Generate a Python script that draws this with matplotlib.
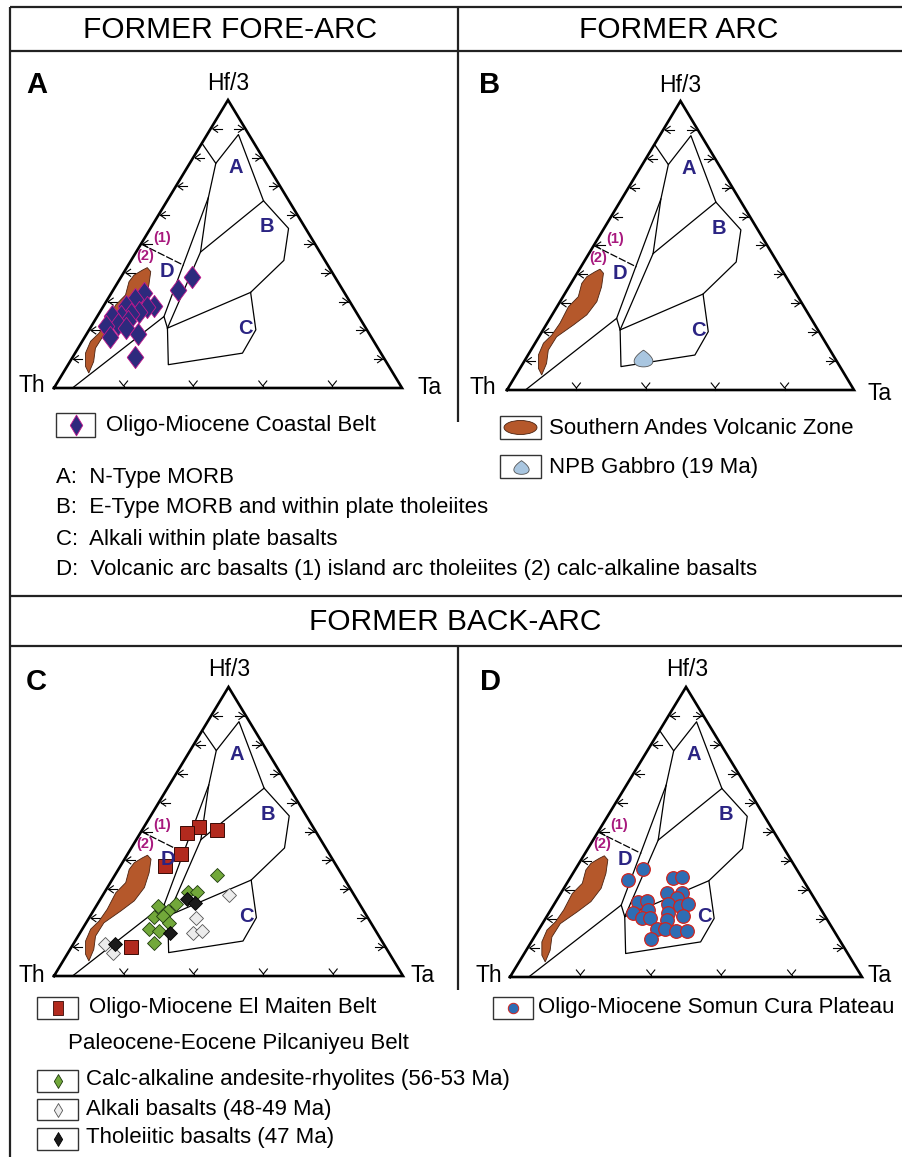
import numpy as np
import matplotlib
matplotlib.use("Agg")
import matplotlib.pyplot as plt
from matplotlib.patches import Rectangle, Ellipse, Polygon

W, H = 902, 1157
plt.rcParams['font.family'] = ['Liberation Sans', 'DejaVu Sans']

# ---------- data : ternary compositions, (Hf/3 %, Ta %) ; Th = 100 - Hf/3 - Ta ----------
# Wood (1980) field boundaries
FIELD_LINES = [
    [(85, 0), (78, 7.5), (88, 9), (65, 27.7), (55.4, 39.7), (44.3, 43.9), (33.2, 39.9),
     (20.2, 47.9), (12.1, 48.1), (8.1, 28.8), (20.8, 22.2), (24.8, 19.2), (0, 5.3)],
    [(78, 7.5), (66.1, 11.3), (24.8, 19.2)],
    [(66.1, 11.3), (47.2, 18.5), (20.8, 22.2)],
    [(47.2, 18.5), (65, 27.7)],
    [(20.8, 22.2), (33.2, 39.9)],
]
FIELD_DASHED = [(50, 0), (42.6, 16.0)]

# Southern Andes Volcanic Zone outline
svz_hf = [41.8, 40.4, 35.7, 30.6, 26.0, 22.5, 18.4, 13.8, 9.2, 5.2, 7.5, 12.1, 16.2, 19.0,
          23.1, 28.8, 32.3, 36.9, 39.2, 40.9]
svz_ta = [5.9, 7.6, 9.4, 10.6, 10.0, 7.9, 5.1, 5.0, 6.8, 7.4, 5.3, 3.0, 2.4, 3.4,
          3.7, 3.3, 4.4, 3.1, 3.4, 4.9]

# A - Oligo-Miocene Coastal Belt
coastal_hf = [38.5, 33.9, 32.9, 30.9, 28.6, 28.1, 28.6, 26.5, 25.8, 25.1, 25.1, 23.1, 22.3,
              21.4, 20.8, 17.7, 18.8, 10.8]
coastal_ta = [20.3, 18.6, 9.5, 7.8, 14.4, 12.6, 6.4, 11.3, 9.1, 6.6, 4.0, 9.8, 7.3,
              4.2, 10.3, 7.2, 14.8, 17.9]

# B - NPB Gabbro
gabbro_hf = [11.0]
gabbro_ta = [33.7]

# C - El Maiten Belt and Pilcaniyeu Belt
maiten_hf = [51.7, 50.6, 49.4, 42.3, 37.9, 10.2]
maiten_ta = [15.7, 21.5, 13.3, 15.2, 12.8, 16.9]
calc_hf = [34.9, 29.2, 28.9, 24.9, 24.2, 22.6, 20.3, 20.6, 18.5, 16.4, 15.6, 11.5]
calc_ta = [29.3, 23.8, 26.4, 22.6, 17.7, 21.4, 18.6, 21.0, 23.8, 19.1, 22.4, 22.9]
alkali_hf = [28.1, 20.0, 14.8, 15.6, 10.9, 7.9]
alkali_ta = [36.2, 30.7, 32.5, 34.5, 9.3, 12.9]
thol_hf = [26.6, 25.4, 15.0, 11.1]
thol_ta = [24.7, 27.7, 25.7, 11.9]

# D - Somun Cura Plateau
somun_hf = [37.2, 33.4, 34.2, 34.6, 28.8, 28.8, 27.1, 25.7, 26.3, 25.1, 24.4, 25.3, 23.0,
            22.2, 21.9, 21.1, 20.2, 20.5, 19.8, 16.4, 16.7, 15.8, 15.8, 13.2]
somun_ta = [19.1, 16.8, 29.2, 31.7, 30.3, 34.6, 33.9, 23.6, 25.7, 32.2, 36.1, 38.0, 27.8,
            23.8, 33.8, 38.7, 27.4, 29.4, 34.8, 33.5, 35.7, 39.3, 42.5, 33.5]

FIELD_NAMES = ['A', 'B', 'C', 'D']
FIELD_TEXT = ["A:  N-Type MORB",
              "B:  E-Type MORB and within plate tholeiites",
              "C:  Alkali within plate basalts",
              "D:  Volcanic arc basalts (1) island arc tholeiites (2) calc-alkaline basalts"]

NAVY = '#2b2483'
MAGENTA = '#a8197e'
BROWN = '#b5582b'

# marker shapes
wide_diamond = [(-0.75, 0), (0, 1), (0.75, 0), (0, -1), (-0.75, 0)]
thin_diamond = [(-0.6, 0), (0, 1), (0.6, 0), (0, -1), (-0.6, 0)]
tall_rect = [(-0.65, -1), (0.65, -1), (0.65, 1), (-0.65, 1), (-0.65, -1)]
t = np.linspace(0, 2 * np.pi, 60)
drop = np.column_stack([1.45 * np.sin(t) * np.sin(t / 2), np.cos(t)])


def to_xy(hf, ta):
    hf = np.asarray(hf, float) / 100.0
    ta = np.asarray(ta, float) / 100.0
    return ta + hf / 2.0, hf


fig = plt.figure(figsize=(W / 100, H / 100), dpi=100)

# background axes in pixel coordinates for frame, headers and legends
bg = fig.add_axes([0, 0, 1, 1])
bg.set_xlim(0, W)
bg.set_ylim(H, 0)
bg.axis('off')

lw_frame = 1.6
for (x0, y0, x1, y1) in [(10, 7, 10, H), (10, 7, W, 7), (10, 51, W, 51), (458, 7, 458, 422),
                         (10, 596, W, 596), (10, 646, W, 646), (458, 646, 458, 990)]:
    bg.plot([x0, x1], [y0, y1], color='#222222', lw=lw_frame, solid_capstyle='butt')

bg.text(230, 30, "FORMER FORE-ARC", fontsize=21.5, ha='center', va='center')
bg.text(679, 30, "FORMER ARC", fontsize=21.5, ha='center', va='center')
bg.text(455, 622, "FORMER BACK-ARC", fontsize=21.5, ha='center', va='center')

# panel geometry : Th x, Ta x, base y, apex y (pixels)
panels = {
    'A': (54, 402, 388, 100),
    'B': (507, 854, 390, 101),
    'C': (54, 403, 976, 687),
    'D': (510, 862, 977, 687),
}
letter_pos = {'A': (37, 85), 'B': (490, 85), 'C': (36, 682), 'D': (490, 682)}
hf_pos = {'A': (228, 83), 'B': (680, 85), 'C': (229, 669), 'D': (687, 669)}
th_pos = {'A': (32, 386), 'B': (483, 388), 'C': (32, 975), 'D': (489, 975)}
ta_pos = {'A': (430, 388), 'B': (880, 393), 'C': (423, 975), 'D': (880, 975)}


def make_panel(key):
    xth, xta, yb, ya = panels[key]
    ax = fig.add_axes([xth / W, 1 - yb / H, (xta - xth) / W, (yb - ya) / H])
    ax.set_xlim(0, 1)
    ax.set_ylim(0, 1)
    ax.axis('off')
    sx = 1.0 / (xta - xth)
    sy = 1.0 / (yb - ya)

    # outer triangle
    ax.plot([0, 1, 0.5, 0], [0, 0, 1, 0], color='black', lw=1.9,
            solid_joinstyle='miter', clip_on=False, zorder=3)

    # arrow ticks
    tk = dict(color='black', lw=0.8, clip_on=False)
    for f in np.arange(0.1, 0.95, 0.1):
        xl = f / 2 + 2 * sx
        ax.plot([xl + 9 * sx, xl], [f, f], **tk)
        ax.plot([xl + 5 * sx, xl, xl + 5 * sx], [f + 3.5 * sy, f, f - 3.5 * sy], **tk)
        xr = 1 - f / 2 - 2 * sx
        ax.plot([xr - 9 * sx, xr], [f, f], **tk)
        ax.plot([xr - 5 * sx, xr, xr - 5 * sx], [f + 3.5 * sy, f, f - 3.5 * sy], **tk)
    for f in [0.2, 0.4, 0.6, 0.8]:
        ax.plot([f - 4 * sx, f, f + 4 * sx], [7 * sy, 2 * sy, 7 * sy], **tk)
        ax.plot([f, f], [0, 2 * sy], **tk)

    # field boundaries
    for line in FIELD_LINES:
        hf, ta = zip(*line)
        x, y = to_xy(hf, ta)
        ax.plot(x, y, color='black', lw=0.9, clip_on=False, zorder=2)
    hf, ta = zip(*FIELD_DASHED)
    x, y = to_xy(hf, ta)
    ax.plot(x, y, color='black', lw=0.9, ls=(0, (6, 1.5)), zorder=2)

    # SVZ field
    x, y = to_xy(svz_hf, svz_ta)
    ax.add_patch(Polygon(np.column_stack([x, y]), closed=True, facecolor=BROWN,
                         edgecolor='#4a2210', lw=0.6, zorder=2.5))

    # field labels
    for name, (lx, ly) in zip(FIELD_NAMES, [(0.5225, 0.767), (0.612, 0.5595),
                                            (0.551, 0.2076), (0.3256, 0.4038)]):
        ax.text(lx, ly, name, color=NAVY, fontsize=14.5, fontweight='bold',
                ha='center', va='center', zorder=5)
    ax.text(0.3112, 0.5225, "(1)", color=MAGENTA, fontsize=10.5, fontweight='bold',
            ha='center', va='center')
    ax.text(0.2614, 0.4578, "(2)", color=MAGENTA, fontsize=10.5, fontweight='bold',
            ha='center', va='center')

    # texts around the triangle
    bg.text(*letter_pos[key], key, fontsize=21, fontweight='bold', ha='center', va='center')
    bg.text(*hf_pos[key], "Hf/3", fontsize=16.5, ha='center', va='center')
    bg.text(*th_pos[key], "Th", fontsize=16.5, ha='center', va='center')
    bg.text(*ta_pos[key], "Ta", fontsize=16.5, ha='center', va='center')
    return ax


axA = make_panel('A')
x, y = to_xy(coastal_hf, coastal_ta)
axA.plot(x, y, ls='none', marker=wide_diamond, ms=16, mfc='#2d2a7d', mec='#c4188e',
         mew=0.6, zorder=4, clip_on=False)

axB = make_panel('B')
x, y = to_xy(gabbro_hf, gabbro_ta)
axB.plot(x, y, ls='none', marker=drop, ms=13.5, mfc='#a9c6e0', mec='#555555',
         mew=0.6, zorder=4)

axC = make_panel('C')
x, y = to_xy(maiten_hf, maiten_ta)
axC.plot(x, y, ls='none', marker='s', ms=9.5, mfc='#b22a1e', mec='#3a0a05', mew=0.7, zorder=4)
x, y = to_xy(calc_hf, calc_ta)
axC.plot(x, y, ls='none', marker='D', ms=7, mfc='#72a83a', mec='#1e3a0e', mew=0.6, zorder=4)
x, y = to_xy(alkali_hf, alkali_ta)
axC.plot(x, y, ls='none', marker='D', ms=7, mfc='#ececec', mec='#555555', mew=0.6, zorder=4)
x, y = to_xy(thol_hf, thol_ta)
axC.plot(x, y, ls='none', marker='D', ms=7, mfc='#1a1a1a', mec='#000000', mew=0.6, zorder=4)

axD = make_panel('D')
x, y = to_xy(somun_hf, somun_ta)
axD.plot(x, y, ls='none', marker='o', ms=9.8, mfc='#2e6db4', mec='#d0241e', mew=0.9, zorder=4)

# ---------- legends ----------
LEG_FS = 16.0


def legend_box(x0, y0, x1, y1):
    bg.add_patch(Rectangle((x0, y0), x1 - x0, y1 - y0, facecolor='white',
                           edgecolor='#333333', lw=1.0))


legend_box(56, 413, 95, 437)
bg.plot([75.5], [425], marker=thin_diamond, ms=15, mfc='#2d2a7d', mec='#c4188e', mew=0.6)
bg.text(106, 425, "Oligo-Miocene Coastal Belt", fontsize=LEG_FS, va='center')

legend_box(500, 416, 541, 439)
bg.add_patch(Ellipse((520.5, 427.5), 33, 14, facecolor=BROWN, edgecolor='#4a2210', lw=0.6))
bg.text(549, 428, "Southern Andes Volcanic Zone", fontsize=LEG_FS, va='center')
legend_box(500, 455, 541, 478)
bg.plot([520.5], [466.5], marker=drop, ms=11, mfc='#a9c6e0', mec='#555555', mew=0.6)
bg.text(549, 467, "NPB Gabbro (19 Ma)", fontsize=LEG_FS, va='center')

for txt, yy in zip(FIELD_TEXT, [478, 508, 539, 570]):
    bg.text(56, yy, txt, fontsize=LEG_FS, va='center')

legend_box(37, 997, 78, 1019)
bg.plot([57.5], [1008], marker=tall_rect, ms=10, mfc='#b22a1e', mec='#3a0a05', mew=0.6)
bg.text(89, 1008, "Oligo-Miocene El Maiten Belt", fontsize=LEG_FS, va='center')
bg.text(68, 1044, "Paleocene-Eocene Pilcaniyeu Belt", fontsize=LEG_FS, va='center')
legend_box(37, 1070, 78, 1092)
bg.plot([57.5], [1081], marker=thin_diamond, ms=10, mfc='#72a83a', mec='#1e3a0e', mew=0.6)
bg.text(86, 1080, "Calc-alkaline andesite-rhyolites (56-53 Ma)", fontsize=LEG_FS, va='center')
legend_box(37, 1099, 78, 1120)
bg.plot([57.5], [1109.5], marker=thin_diamond, ms=10, mfc='#ececec', mec='#555555', mew=0.6)
bg.text(86, 1109, "Alkali basalts (48-49 Ma)", fontsize=LEG_FS, va='center')
legend_box(37, 1128, 78, 1150)
bg.plot([57.5], [1139], marker=thin_diamond, ms=10, mfc='#1a1a1a', mec='#000000', mew=0.6)
bg.text(86, 1138, "Tholeiitic basalts (47 Ma)", fontsize=LEG_FS, va='center')

legend_box(493, 997, 533, 1019)
bg.plot([513], [1008], marker='o', ms=7.5, mfc='#2e6db4', mec='#d0241e', mew=0.7)
bg.text(538, 1008, "Oligo-Miocene Somun Cura Plateau", fontsize=LEG_FS, va='center')

fig.savefig("out.png", dpi=100)
